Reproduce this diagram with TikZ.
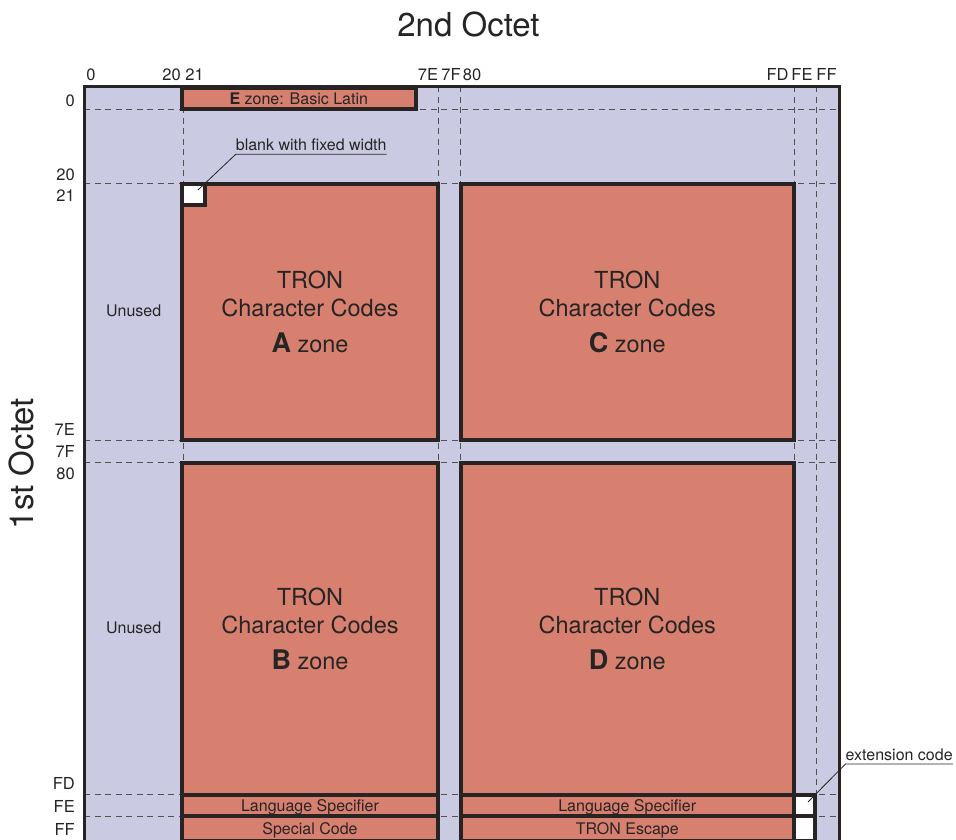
\documentclass[tikz,border=0pt]{standalone}
\usepackage{fontspec}
\setmainfont{TeX Gyre Heros}
\usepackage{tikz}
\definecolor{lavend}{RGB}{202,203,227}
\definecolor{salmon}{RGB}{216,128,111}
\definecolor{edge}{RGB}{40,36,36}
\definecolor{ink}{RGB}{38,36,36}

\begin{document}
\begin{tikzpicture}[x=1pt,y=-1pt,
  every node/.style={text=ink,inner sep=0pt,font=\fontsize{16}{19}\selectfont},
  zone/.style={draw=edge,fill=salmon,line width=4pt,align=center,font=\fontsize{23.5}{28.3}\selectfont},
  band/.style={draw=edge,fill=salmon,line width=4pt,text height=11.5pt,text depth=0.5pt},
  blank/.style={draw=edge,fill=white,line width=4pt},
  cellline/.style={draw=edge!80,line width=0.8pt,dash pattern=on 6pt off 4.5pt},
  leader/.style={draw=edge,line width=0.8pt},
  tick/.style={font=\fontsize{16.5}{19}\selectfont,anchor=base},
  octet/.style={font=\fontsize{33}{38}\selectfont,anchor=base}]
\useasboundingbox (0,0) rectangle (956,839);
\clip (0,0) rectangle (956,839);
\fill[lavend] (84.3,86.2) rectangle (839.5,845);
\draw[cellline] (84.3,109.5)--(839.5,109.5);
\draw[cellline] (84.3,183)--(839.5,183);
\draw[cellline] (84.3,440)--(839.5,440);
\draw[cellline] (84.3,462)--(839.5,462);
\draw[cellline] (84.3,794.5)--(839.5,794.5);
\draw[cellline] (84.3,816.5)--(839.5,816.5);
\draw[cellline] (183,86.2)--(183,845);
\draw[cellline] (438.5,86.2)--(438.5,845);
\draw[cellline] (460.5,86.2)--(460.5,845);
\draw[cellline] (794,86.2)--(794,845);
\draw[cellline] (816.5,86.2)--(816.5,845);
\node[band,minimum width=233.5pt,minimum height=21pt] (ezone) at (298.75,98.5) {\textbf{E} zone: Basic Latin};
\node[zone,minimum width=256pt,minimum height=256pt] (azone) at (310,312) {TRON\\Character Codes\\[7.7pt]{\fontsize{27}{27}\selectfont\bfseries A} zone};
\node[zone,minimum width=333.5pt,minimum height=256pt] (czone) at (627.25,312) {TRON\\Character Codes\\[7.7pt]{\fontsize{27}{27}\selectfont\bfseries C} zone};
\node[zone,minimum width=256pt,minimum height=331.7pt] (bzone) at (310,628.85) {TRON\\Character Codes\\[7.7pt]{\fontsize{27}{27}\selectfont\bfseries B} zone};
\node[zone,minimum width=333.5pt,minimum height=331.7pt] (dzone) at (627.25,628.85) {TRON\\Character Codes\\[7.7pt]{\fontsize{27}{27}\selectfont\bfseries D} zone};
\node[blank,minimum width=22.5pt,minimum height=21pt] (fixed) at (193.25,194.5) {};
\node[band,minimum width=256pt,minimum height=21.6pt] (langA) at (310,805.5) {Language Specifier};
\node[band,minimum width=256pt,minimum height=24.7pt] (special) at (310,828.65) {Special Code};
\node[band,minimum width=333.5pt,minimum height=21.6pt] (langD) at (627.25,805.5) {Language Specifier};
\node[band,minimum width=333.5pt,minimum height=24.7pt] (escape) at (627.25,828.65) {TRON Escape};
\node[blank,minimum width=21pt,minimum height=21.6pt] (extFE) at (804.5,805.5) {};
\node[blank,minimum width=21pt,minimum height=24.7pt] (extFF) at (804.5,828.65) {};
\draw[edge,line width=2.8pt] (84.3,86.2) rectangle (839.5,845);
\node[anchor=south west,inner ysep=3.6pt] (fixedlbl) at (235.7,154.3) {blank with fixed width};
\draw[leader,shorten >=6.5pt] (fixedlbl.south east) -- (fixedlbl.south west) -- (fixed.center);
\node[anchor=south west,inner ysep=3.5pt] (extlbl) at (845.5,764) {extension code};
\draw[leader,shorten >=5pt] (extlbl.south east) -- (extlbl.south west) -- (extFE.center);
\node[anchor=base] (unusedA) at (133.7,316.7) {Unused};
\node[anchor=base] (unusedB) at (133.7,633.5) {Unused};
\node[tick] (c00) at (91,80.7) {0};
\node[tick] (c20) at (171.5,80.7) {20};
\node[tick] (c21) at (194.5,80.7) {21};
\node[tick] (c7E) at (428,80.7) {7E};
\node[tick] (c7F) at (451,80.7) {7F};
\node[tick] (c80) at (472,80.7) {80};
\node[tick] (cFD) at (777.5,80.7) {FD};
\node[tick] (cFE) at (802,80.7) {FE};
\node[tick] (cFF) at (826.5,80.7) {FF};
\node[tick,anchor=base east] (r00) at (75,106.7) {0};
\node[tick,anchor=base east] (r20) at (75,180) {20};
\node[tick,anchor=base east] (r21) at (75,201.7) {21};
\node[tick,anchor=base east] (r7E) at (75,435.5) {7E};
\node[tick,anchor=base east] (r7F) at (75,457.5) {7F};
\node[tick,anchor=base east] (r80) at (75,479.5) {80};
\node[tick,anchor=base east] (rFD) at (75,789) {FD};
\node[tick,anchor=base east] (rFE) at (75,812.5) {FE};
\node[tick,anchor=base east] (rFF) at (75,835) {FF};
\node[octet] (second) at (468.5,36) {2nd Octet};
\node[octet,rotate=90] (first) at (33,463.5) {1st Octet};
\end{tikzpicture}
\end{document}
